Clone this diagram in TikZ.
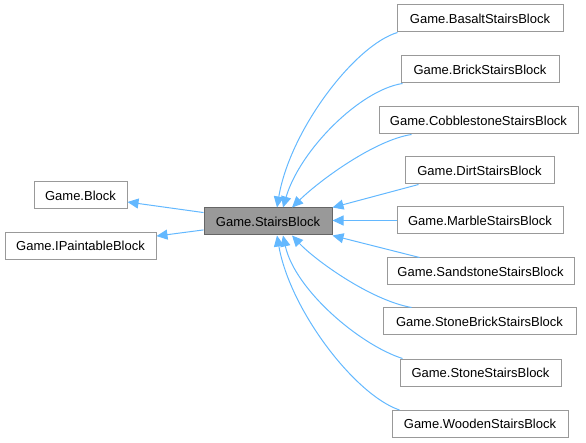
\documentclass[tikz,border=0pt]{standalone}
\usepackage{fontspec}
\setmainfont{Liberation Sans}
\usetikzlibrary{arrows.meta}
\definecolor{edgeblue}{HTML}{63B8FF}
\definecolor{boxgrey}{HTML}{999999}
\definecolor{darkgrey}{HTML}{666666}
\tikzset{
  cls/.style={draw=boxgrey, fill=white, line width=1pt, minimum height=27pt, inner sep=0pt, font=\fontsize{13}{15}\selectfont},
  cur/.style={cls, fill=boxgrey, draw=darkgrey},
  inh/.style={draw=edgeblue, line width=1pt, -{Triangle[length=11pt,width=10pt,fill=edgeblue]}},
}
\begin{document}
\begin{tikzpicture}[x=1pt,y=-1pt]
\useasboundingbox (0,0) rectangle (586,443);
\node[cur, minimum width=128pt] (stairs) at (268,221.5) {Game.StairsBlock};
\node[cls, minimum width=93pt] (block) at (80.5,195.5) {Game.Block};
\node[cls, minimum width=151pt] (paint) at (80.5,246) {Game.IPaintableBlock};
\node[cls, minimum width=166pt] (basalt) at (480,18.5) {Game.BasaltStairsBlock};
\node[cls, minimum width=158pt] (brick) at (480,69.5) {Game.BrickStairsBlock};
\node[cls, minimum width=199pt] (cobble) at (478.5,120.5) {Game.CobblestoneStairsBlock};
\node[cls, minimum width=149pt] (dirt) at (479.5,170.5) {Game.DirtStairsBlock};
\node[cls, minimum width=166pt] (marble) at (480,220.5) {Game.MarbleStairsBlock};
\node[cls, minimum width=187pt] (sand) at (480.5,271.5) {Game.SandstoneStairsBlock};
\node[cls, minimum width=193pt] (sbrick) at (479.5,321.5) {Game.StoneBrickStairsBlock};
\node[cls, minimum width=161pt] (stone) at (480.5,372.5) {Game.StoneStairsBlock};
\node[cls, minimum width=176pt] (wooden) at (480,424) {Game.WoodenStairsBlock};

\draw[inh] (stairs) -- (block);
\draw[inh] (stairs) -- (paint);

\draw[inh] ([xshift=1pt]basalt.south west) .. controls (355,45) and (290,130) .. ([xshift=9pt]stairs.north);
\draw[inh] ([xshift=2pt]brick.south west) .. controls (360,90) and (300,150) .. ([xshift=15pt]stairs.north);
\draw[inh] ([xshift=33pt]cobble.south west) .. controls (375,140) and (320,180) .. ([xshift=24pt]stairs.north);
\draw[inh] ([xshift=14pt]dirt.south west) -- (stairs.north east);
\draw[inh] (marble.west) -- (stairs.east |- marble.west);
\draw[inh] ([xshift=33pt]sand.north west) -- (stairs.south east);
\draw[inh] ([xshift=29pt]sbrick.north west) .. controls (370,300) and (315,260) .. ([xshift=24pt]stairs.south);
\draw[inh] ([xshift=3pt]stone.north west) .. controls (360,345) and (295,290) .. ([xshift=15pt]stairs.south);
\draw[inh] ([xshift=8pt]wooden.north west) .. controls (355,395) and (290,310) .. ([xshift=9pt]stairs.south);
\end{tikzpicture}
\end{document}
